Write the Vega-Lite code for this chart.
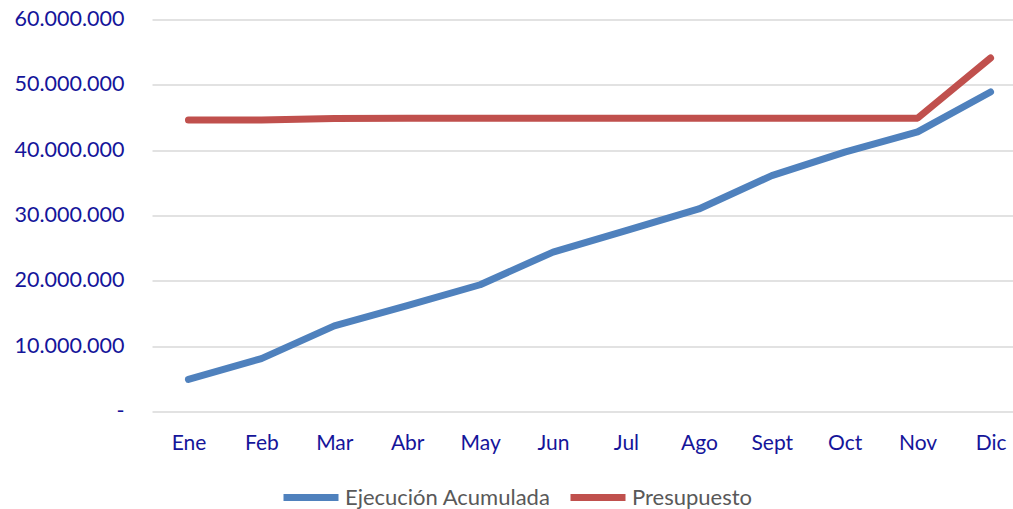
{
  "$schema": "https://vega.github.io/schema/vega-lite/v6.json",
  "width": 875,
  "height": 392,
  "autosize": {"type": "none"},
  "padding": {"left": 152, "top": 19.5, "right": 0, "bottom": 97.5},
  "background": "white",
  "config": {
    "locale": {"number": {"decimal": ",", "thousands": ".", "grouping": [3], "currency": ["", ""]}},
    "view": {"stroke": null},
    "font": "Lato"
  },
  "data": {
    "values": [
      {"mes": "Ene", "serie": "Ejecución Acumulada", "valor": 4900000},
      {"mes": "Feb", "serie": "Ejecución Acumulada", "valor": 8100000},
      {"mes": "Mar", "serie": "Ejecución Acumulada", "valor": 13100000},
      {"mes": "Abr", "serie": "Ejecución Acumulada", "valor": 16200000},
      {"mes": "May", "serie": "Ejecución Acumulada", "valor": 19400000},
      {"mes": "Jun", "serie": "Ejecución Acumulada", "valor": 24400000},
      {"mes": "Jul", "serie": "Ejecución Acumulada", "valor": 27700000},
      {"mes": "Ago", "serie": "Ejecución Acumulada", "valor": 31000000},
      {"mes": "Sept", "serie": "Ejecución Acumulada", "valor": 36100000},
      {"mes": "Oct", "serie": "Ejecución Acumulada", "valor": 39700000},
      {"mes": "Nov", "serie": "Ejecución Acumulada", "valor": 42800000},
      {"mes": "Dic", "serie": "Ejecución Acumulada", "valor": 48900000},
      {"mes": "Ene", "serie": "Presupuesto", "valor": 44600000},
      {"mes": "Feb", "serie": "Presupuesto", "valor": 44600000},
      {"mes": "Mar", "serie": "Presupuesto", "valor": 44850000},
      {"mes": "Abr", "serie": "Presupuesto", "valor": 44900000},
      {"mes": "May", "serie": "Presupuesto", "valor": 44900000},
      {"mes": "Jun", "serie": "Presupuesto", "valor": 44900000},
      {"mes": "Jul", "serie": "Presupuesto", "valor": 44900000},
      {"mes": "Ago", "serie": "Presupuesto", "valor": 44900000},
      {"mes": "Sept", "serie": "Presupuesto", "valor": 44900000},
      {"mes": "Oct", "serie": "Presupuesto", "valor": 44900000},
      {"mes": "Nov", "serie": "Presupuesto", "valor": 44900000},
      {"mes": "Dic", "serie": "Presupuesto", "valor": 54100000}
    ]
  },
  "mark": {"type": "line", "strokeWidth": 7, "strokeCap": "round", "strokeJoin": "round"},
  "encoding": {
    "x": {
      "field": "mes",
      "type": "nominal",
      "sort": ["Ene", "Feb", "Mar", "Abr", "May", "Jun", "Jul", "Ago", "Sept", "Oct", "Nov", "Dic"],
      "scale": {"type": "point", "padding": 0.5},
      "axis": {
        "title": null,
        "labelAngle": 0,
        "labelFontSize": 21,
        "labelColor": "#15159a",
        "labelPadding": 21,
        "ticks": false,
        "domain": false,
        "grid": false
      }
    },
    "y": {
      "field": "valor",
      "type": "quantitative",
      "scale": {"domain": [0, 60000000], "nice": false},
      "axis": {
        "title": null,
        "values": [0, 10000000, 20000000, 30000000, 40000000, 50000000, 60000000],
        "format": ",d",
        "labelExpr": "datum.value == 0 ? '-' : datum.label",
        "labelFontSize": 21.5,
        "labelColor": "#15159a",
        "labelPadding": 28,
        "ticks": false,
        "domain": false,
        "gridColor": "#d9d9d9",
        "gridWidth": 1.3
      }
    },
    "color": {
      "field": "serie",
      "type": "nominal",
      "scale": {"domain": ["Ejecución Acumulada", "Presupuesto"], "range": ["#4F81BD", "#C0504D"]},
      "legend": {
        "title": null,
        "orient": "none",
        "direction": "horizontal",
        "legendX": 128,
        "legendY": 447,
        "symbolType": "stroke",
        "symbolSize": 3025,
        "symbolStrokeWidth": 7,
        "labelFontSize": 22,
        "labelColor": "#595959",
        "labelOffset": 3,
        "columnPadding": 5,
        "labelLimit": 400
      }
    }
  }
}
